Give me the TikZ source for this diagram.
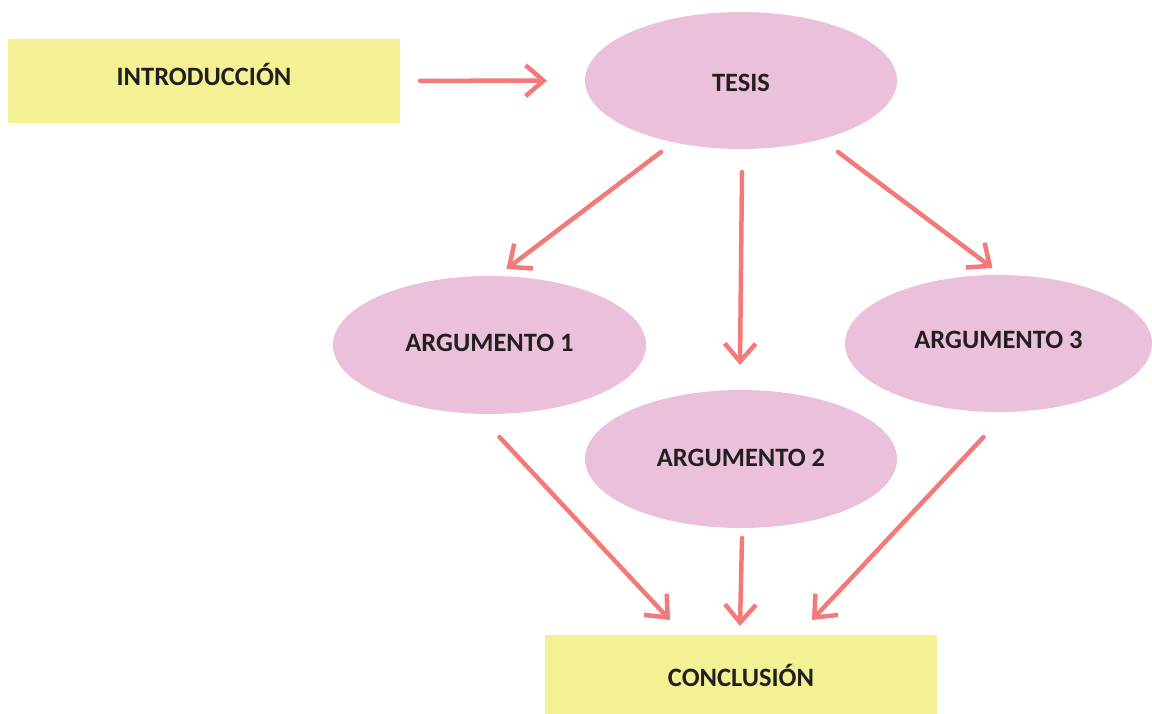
\documentclass[tikz,border=0pt]{standalone}
\usepackage{fontspec}
\setmainfont{Carlito}
\usepackage{xcolor}
\usepackage{tikz}
\usetikzlibrary{arrows.meta, shapes.geometric}

\definecolor{amarillo}{HTML}{F4F194}
\definecolor{rosa}{HTML}{EBC0DA}
\definecolor{rojizo}{HTML}{F27B7A}
\definecolor{tinta}{HTML}{231F20}

\begin{document}
\begin{tikzpicture}[
        x=1pt,
        y=-1pt,
        caja/.style={rectangle,fill=amarillo,minimum width=392pt,inner sep=0pt,outer sep=0pt,
            text height=17pt,text depth=0pt,text=tinta,font=\fontsize{26.5}{30}\selectfont\bfseries},
        idea/.style={ellipse,fill=rosa,minimum width=312pt,minimum height=138pt,inner sep=0pt,outer sep=0pt,
            text height=17pt,text depth=0pt,text=tinta,font=\fontsize{26.5}{30}\selectfont\bfseries},
        flecha/.style={-{Straight Barb[length=18pt,width=31pt]},line width=4.5pt,line cap=round,line join=round,rojizo}
    ]
        \clip (0,0) rectangle (1152,714);
        \fill[white] (0,0) rectangle (1152,714);
        \node[caja,minimum height=84pt,text depth=8pt] (intro) at (204,81) {INTRODUCCIÓN};
        \node[idea,minimum height=137pt,text height=22pt] (tesis) at (741,80.5) {TESIS};
        \node[idea,minimum width=313pt,text depth=4pt] (arg1) at (489.5,345) {ARGUMENTO 1};
        \node[idea,minimum width=307pt,minimum height=137pt,text depth=7pt] (arg3) at (998.5,343.5) {ARGUMENTO 3};
        \node[idea,text depth=2pt] (arg2) at (741,459) {ARGUMENTO 2};
        \node[caja,minimum height=86pt] (concl) at (741,678) {CONCLUSIÓN};
        \draw[flecha,shorten <=20pt,shorten >=38pt] (intro) -- (tesis);
        \draw[flecha] ([xshift=-80pt,yshift=-3pt]tesis.south) -- ([xshift=17pt,yshift=7pt]arg1.north);
        \draw[flecha] ([xshift=1pt,yshift=-23pt]tesis.south) -- ([xshift=-1pt,yshift=25pt]arg2.north);
        \draw[flecha] ([xshift=97pt,yshift=-3pt]tesis.south) -- ([xshift=-6pt,yshift=7pt]arg3.north);
        \draw[flecha] ([xshift=10pt,yshift=-23pt]arg1.south) -- ([xshift=-71pt,yshift=15pt]concl.north);
        \draw[flecha] ([xshift=1pt,yshift=-10pt]arg2.south) -- ([xshift=-1pt,yshift=9pt]concl.north);
        \draw[flecha] ([xshift=-15pt,yshift=-25pt]arg3.south) -- ([xshift=71pt,yshift=15pt]concl.north);
    \end{tikzpicture}
\end{document}
